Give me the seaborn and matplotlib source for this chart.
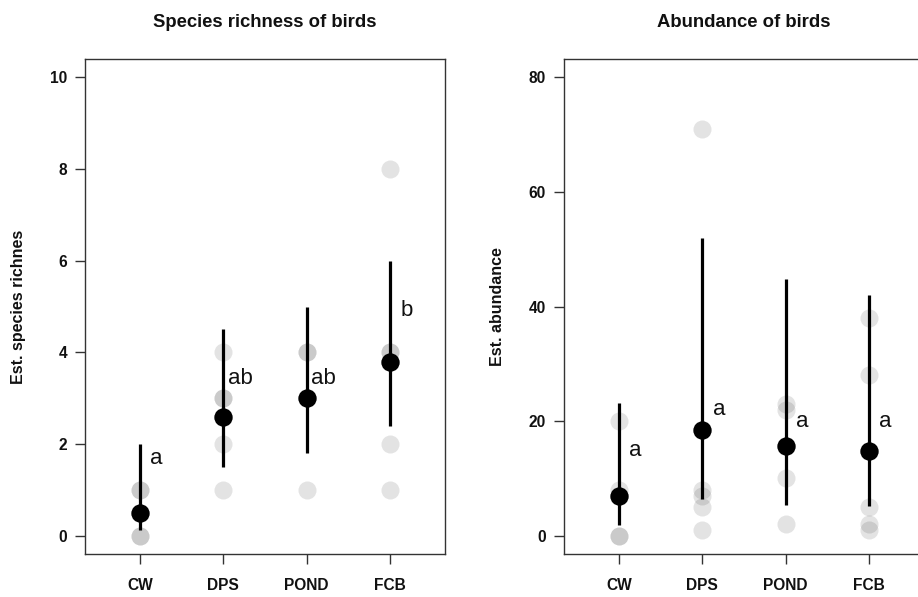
import numpy as np
import pandas as pd
import matplotlib
matplotlib.use("Agg")
import matplotlib.pyplot as plt
import seaborn as sns

# ---- data ----
sites = ["CW", "DPS", "POND", "FCB"]

rich_cw = [0, 0, 1, 1]
rich_dps = [1, 2, 3, 3, 4]
rich_pond = [1, 4, 4]
rich_fcb = [1, 2, 4, 4, 8]

rich_mean = [0.5, 2.6, 3.0, 3.8]
rich_lower = [0.12, 1.5, 1.8, 2.4]
rich_upper = [2.0, 4.5, 5.0, 6.0]
rich_letters = ["a", "ab", "ab", "b"]
rich_letter_y = [1.57, 3.32, 3.32, 4.80]

abun_cw = [20, 8, 0, 0]
abun_dps = [71, 8, 7, 5, 1]
abun_pond = [23, 22, 10, 2]
abun_fcb = [38, 28, 5, 2, 1]

abun_mean = [7.0, 18.4, 15.7, 14.8]
abun_lower = [1.9, 6.4, 5.4, 5.1]
abun_upper = [23.2, 52.0, 44.8, 42.0]
abun_letters = ["a", "a", "a", "a"]
abun_letter_y = [13.9, 21.0, 19.0, 19.0]

rich_ticks = [0, 2, 4, 6, 8, 10]
abun_ticks = [0, 20, 40, 60, 80]

titles = ["Species richness of birds", "Abundance of birds"]
ylabels = ["Est. species richnes", "Est. abundance"]

# ---- style ----
sns.set_theme(style="white")
plt.rcParams["font.family"] = ["Liberation Sans", "DejaVu Sans"]

W, H = 918, 597
fig = plt.figure(figsize=(W / 100, H / 100), dpi=100)
ax1 = fig.add_axes([85 / W, (H - 554) / H, 360 / W, 495 / H])
ax2 = fig.add_axes([564 / W, (H - 554) / H, 360 / W, 495 / H])


def raw_frame(groups):
    rows = []
    for s, vals in zip(sites, groups):
        for v in vals:
            rows.append({"site": s, "value": v})
    return pd.DataFrame(rows)


def panel(ax, raw_groups, mean, lower, upper, letters, letter_y, ticks,
          title, ylabel):
    df = raw_frame(raw_groups)
    sns.stripplot(data=df, x="site", y="value", order=sites, jitter=False,
                  color="black", alpha=0.11, size=13, linewidth=0,
                  ax=ax, zorder=2)
    pos = np.arange(len(sites))
    ax.vlines(pos, lower, upper, color="black", linewidth=2.3, zorder=3)
    mdf = pd.DataFrame({"pos": pos, "mean": mean})
    sns.scatterplot(data=mdf, x="pos", y="mean", color="black", s=175,
                    linewidth=0, ax=ax, zorder=4, legend=False)
    for p, lab, ly in zip(pos, letters, letter_y):
        ax.text(p + 0.2, ly, lab, ha="center", va="baseline", fontsize=16,
                color="#111111")
    span = ticks[-1] - ticks[0]
    ax.set_ylim(ticks[0] - 0.04 * span, ticks[-1] + 0.04 * span)
    ax.set_xlim(-0.66, len(sites) - 1 + 0.66)
    ax.set_yticks(ticks)
    ax.set_yticklabels([str(t) for t in ticks])
    ax.set_xticks(pos)
    ax.set_xticklabels(sites)
    ax.set_xlabel("")
    ax.set_ylabel(ylabel, fontsize=11.5, fontweight="bold", color="#111111")
    ax.yaxis.set_label_coords(-59 / 360, 0.5)
    ax.set_title(title, fontsize=13.3, fontweight="bold", pad=23,
                 color="#111111")
    for sp in ax.spines.values():
        sp.set_visible(True)
        sp.set_color("#333333")
        sp.set_linewidth(1.0)
    ax.tick_params(axis="both", which="both", direction="out", length=7.5,
                   width=1.0, color="#333333", labelsize=11.2,
                   labelcolor="#111111", left=True, bottom=True)
    ax.tick_params(axis="x", pad=9.5)
    ax.tick_params(axis="y", pad=5.5)
    for lab in ax.get_xticklabels() + ax.get_yticklabels():
        lab.set_fontweight("bold")
    ax.grid(False)
    ax.set_facecolor("white")


panel(ax1, [rich_cw, rich_dps, rich_pond, rich_fcb], rich_mean, rich_lower,
      rich_upper, rich_letters, rich_letter_y, rich_ticks, titles[0],
      ylabels[0])
panel(ax2, [abun_cw, abun_dps, abun_pond, abun_fcb], abun_mean, abun_lower,
      abun_upper, abun_letters, abun_letter_y, abun_ticks, titles[1],
      ylabels[1])

fig.savefig("out.png", dpi=100, facecolor="white")
